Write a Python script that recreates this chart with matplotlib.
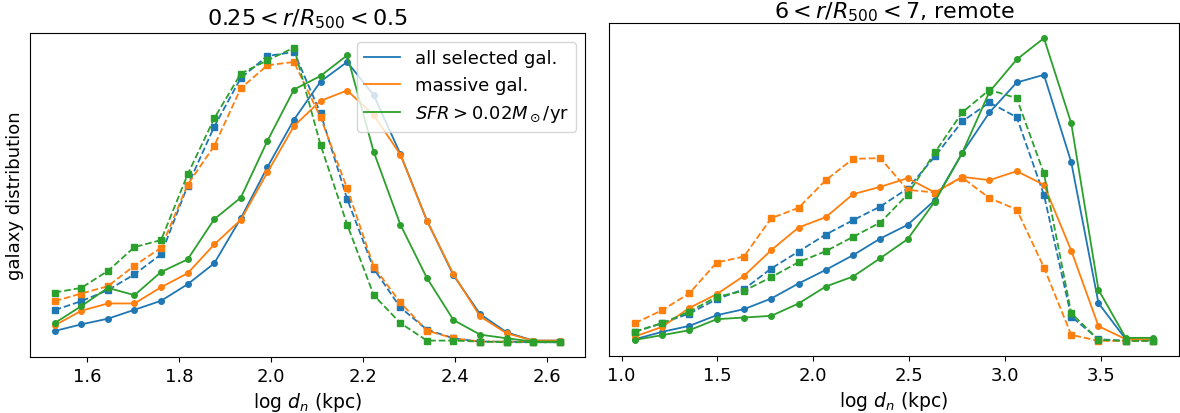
import matplotlib
matplotlib.use('Agg')
import matplotlib.pyplot as plt
from matplotlib.lines import Line2D

# bin centres of log d_n (kpc)
x_inner = [1.529 + 0.0578 * i for i in range(20)]
x_remote = [1.069 + 0.1423 * i for i in range(20)]

labels = ['all selected gal.', 'massive gal.', r'$SFR>0.02M_\odot$/yr']
colors = ['C0', 'C1', 'C2']

# 0.25 < r/R500 < 0.5 ; solid = circles, dashed = squares
inner_solid = [
    [0.34, 0.54, 0.71, 0.98, 1.25, 1.75, 2.38, 3.74, 5.28, 6.71, 7.86, 8.45, 7.45, 5.68, 3.67, 2.02, 0.85, 0.30, 0.05, 0.05],
    [0.51, 0.95, 1.17, 1.17, 1.66, 2.08, 2.95, 3.69, 5.12, 6.52, 7.28, 7.59, 6.85, 5.66, 3.67, 2.05, 0.78, 0.27, 0.05, 0.05],
    [0.58, 1.09, 1.64, 1.42, 2.12, 2.50, 3.71, 4.36, 6.07, 7.62, 8.03, 8.65, 5.74, 3.55, 1.94, 0.67, 0.23, 0.12, 0.02, 0.02],
]
inner_dashed = [
    [0.97, 1.24, 1.57, 2.05, 2.65, 4.72, 6.50, 7.97, 8.63, 8.75, 6.90, 4.32, 2.22, 1.05, 0.38, 0.12, 0.02, 0.02, 0.0, 0.0],
    [1.24, 1.47, 1.69, 2.31, 2.85, 4.75, 5.92, 7.66, 8.35, 8.45, 6.78, 4.64, 2.28, 1.20, 0.35, 0.12, 0.02, 0.02, 0.02, 0.02],
    [1.50, 1.64, 2.15, 2.87, 3.08, 5.06, 6.75, 8.10, 8.50, 8.88, 5.95, 3.55, 1.42, 0.58, 0.05, 0.05, 0.02, 0.0, 0.0, 0.0],
]

# 6 < r/R500 < 7, remote
remote_solid = [
    [0.05, 0.27, 0.45, 0.77, 0.95, 1.27, 1.72, 2.13, 2.57, 3.07, 3.48, 4.22, 5.63, 6.85, 7.75, 7.98, 5.36, 1.13, 0.05, 0.03],
    [0.13, 0.42, 0.99, 1.40, 1.95, 2.72, 3.40, 3.71, 4.40, 4.62, 4.88, 4.45, 4.92, 4.82, 5.09, 4.68, 2.71, 0.44, 0.05, 0.05],
    [0.03, 0.17, 0.32, 0.65, 0.70, 0.75, 1.12, 1.63, 1.93, 2.48, 3.05, 4.18, 5.63, 7.47, 8.44, 9.08, 6.53, 1.53, 0.09, 0.09],
]
remote_dashed = [
    [0.27, 0.53, 0.82, 1.25, 1.55, 2.17, 2.68, 3.19, 3.62, 4.03, 4.57, 5.53, 6.58, 7.15, 6.71, 4.38, 0.73, 0.05, 0.0, 0.0],
    [0.53, 0.92, 1.43, 2.35, 2.53, 3.68, 3.99, 4.82, 5.46, 5.48, 4.53, 4.45, 4.90, 4.28, 3.94, 2.20, 0.18, 0.0, 0.0, 0.0],
    [0.28, 0.53, 0.88, 1.32, 1.50, 1.91, 2.36, 2.69, 3.12, 3.55, 4.39, 5.65, 6.85, 7.53, 7.28, 5.02, 0.83, 0.03, 0.0, 0.0],
]

fig = plt.figure(figsize=(11.8, 4.14), dpi=100)
ax1 = fig.add_axes([0.025, 0.1353, 0.4708, 0.7826])
ax2 = fig.add_axes([0.5161, 0.1377, 0.483, 0.8043])

for ax, x, solid, dashed in [(ax1, x_inner, inner_solid, inner_dashed),
                             (ax2, x_remote, remote_solid, remote_dashed)]:
    for i in range(3):
        ax.plot(x, solid[i], '-o', color=colors[i], ms=4, lw=1.3)
        ax.plot(x, dashed[i], '--s', color=colors[i], ms=4, lw=1.3)
    ax.set_yticks([])
    ax.set_xlabel(r'log $d_n$ (kpc)', fontsize=13.5)
    ax.tick_params(axis='x', labelsize=13)

ax1.set_title(r'$0.25<r/R_{500}<0.5$', fontsize=16)
ax2.set_title(r'$6<r/R_{500}<7$, remote', fontsize=16, pad=4)
ax1.set_ylabel('galaxy distribution', fontsize=13)

proxies = [Line2D([], [], color=c, lw=1.3) for c in colors]
ax1.legend(proxies, labels, loc='upper right', fontsize=13)

fig.savefig('out.png', dpi=100)
